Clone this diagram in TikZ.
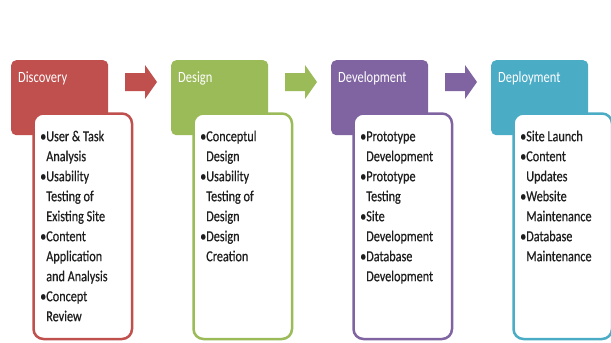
\documentclass[tikz,border=0pt]{standalone}
\usepackage{fontspec}
\setmainfont{Carlito}
\newfontfamily\heavy[FakeBold=0.6]{Carlito}
\usetikzlibrary{shapes.arrows}
\definecolor{cRed}{RGB}{192,80,77}
\definecolor{cGreen}{RGB}{155,187,89}
\definecolor{cPurple}{RGB}{128,100,162}
\definecolor{cTeal}{RGB}{75,172,198}
\newcommand{\cnt}{\phantom{•}}
\newcommand{\stk}[1]{\scalebox{1}[1.25]{\begin{tabular}{@{}l@{}}#1\end{tabular}}}
\begin{document}
\begin{tikzpicture}[x=1pt,y=-1pt,
  header/.style={draw=none, fill=#1, rounded corners=5pt, minimum width=97pt, minimum height=75pt, anchor=north west, inner sep=0pt},
  content/.style={draw=#1, line width=2.5pt, fill=white, rounded corners=10pt, minimum width=98.5pt, minimum height=225.5pt, anchor=north west, inner sep=0pt},
  title/.style={text=white, font=\fontsize{12.5}{15}\selectfont, anchor=west, inner sep=0pt},
  items/.style={font=\heavy\fontsize{12.2}{16}\selectfont, anchor=north west, inner sep=0pt, text=black!88},
  flow/.style={fill=#1}]
\useasboundingbox[fill=white] (0,0) rectangle (611,343);

% Discovery
\node[header=cRed] (h1) at (11,60) {};
\node[title] (t1) at (18,78) {\scalebox{1}[1.25]{Discovery}};
\node[content=cRed] (b1) at (32.25,112.25) {};
\node[items] (i1) at (40,127) {\stk{•User \& Task\\\cnt Analysis\\•Usability\\\cnt Testing of\\\cnt Existing Site\\•Content\\\cnt Application\\\cnt and Analysis\\•Concept\\\cnt Review}};

% Design
\node[header=cGreen] (h2) at (171,60) {};
\node[title] (t2) at (178,78) {\scalebox{1}[1.25]{Design}};
\node[content=cGreen] (b2) at (192.25,112.25) {};
\node[items] (i2) at (200,127) {\stk{•Conceptul\\\cnt Design\\•Usability\\\cnt Testing of\\\cnt Design\\•Design\\\cnt Creation}};

% Development
\node[header=cPurple] (h3) at (331,60) {};
\node[title] (t3) at (338,78) {\scalebox{1}[1.25]{Development}};
\node[content=cPurple] (b3) at (352.25,112.25) {};
\node[items] (i3) at (360,127) {\stk{•Prototype\\\cnt Development\\•Prototype\\\cnt Testing\\•Site\\\cnt Development\\•Database\\\cnt Development}};

% Deployment
\node[header=cTeal] (h4) at (491,60) {};
\node[title] (t4) at (498,78) {\scalebox{1}[1.25]{Deployment}};
\node[content=cTeal] (b4) at (512.25,112.25) {};
\node[items] (i4) at (520,127) {\stk{•Site Launch\\•Content\\\cnt Updates\\•Website\\\cnt Maintenance\\•Database\\\cnt Maintenance}};

% arrows
\foreach \x/\c in {125/cRed,285/cGreen,445/cPurple}{
  \fill[flow=\c] (\x,73) -- ++(20,0) -- ++(0,-8) -- ++(12,17) -- ++(-12,17) -- ++(0,-8) -- ++(-20,0) -- cycle;
}
\end{tikzpicture}
\end{document}
